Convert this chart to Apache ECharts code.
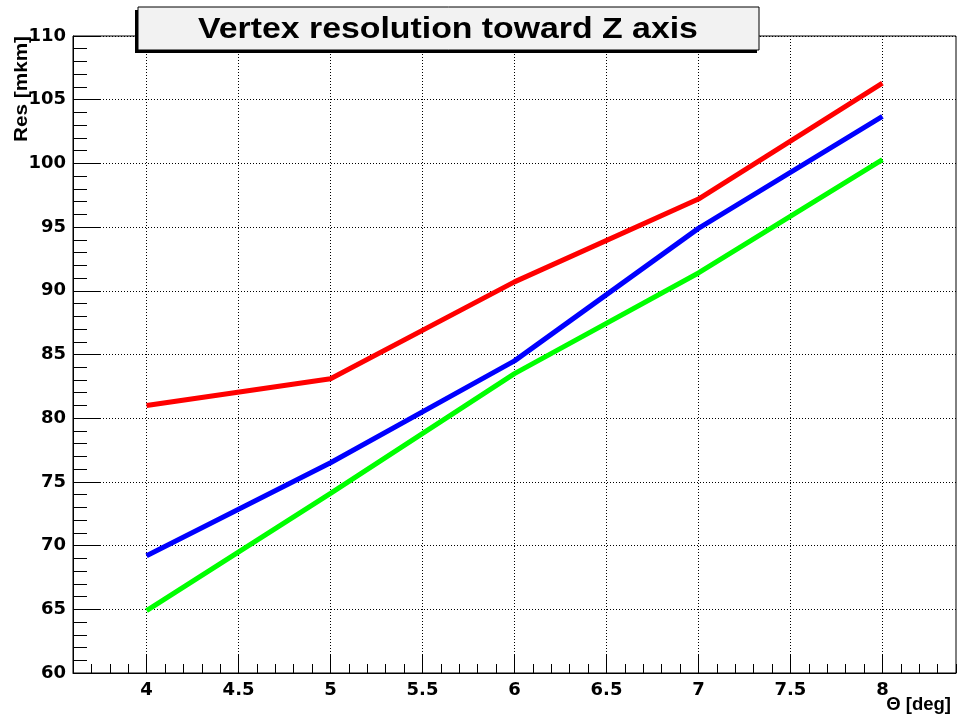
<!DOCTYPE html>
<html>
<head>
<meta charset="utf-8">
<script src="https://cdn.jsdelivr.net/npm/echarts@6/dist/echarts.min.js"></script>
<style>
  html, body { margin: 0; padding: 0; background: #fff; }
  #chart { width: 958px; height: 718px; }
</style>
</head>
<body>
<div id="chart"></div>
<script>
// Polar angle of the track, degrees
const theta = [4, 5, 6, 7, 8];
// Vertex resolution along Z, micrometres, one array per configuration
const resRed = [81.0, 83.1, 90.7, 97.2, 106.3];
const resBlue = [69.2, 76.5, 84.5, 94.9, 103.7];
const resGreen = [64.9, 74.1, 83.5, 91.4, 100.3];
// Labelled ticks on the theta axis
const thetaTicks = [4, 4.5, 5, 5.5, 6, 6.5, 7, 7.5, 8];

const FONT = '"Liberation Sans", Arial, Helvetica, sans-serif';
const LABEL_FONT = '"DejaVu Sans", "Liberation Sans", sans-serif';

function pairs(xs, ys) {
  return xs.map((x, i) => [x, ys[i]]);
}

const chart = echarts.init(document.getElementById('chart'), null, { renderer: 'canvas' });

const dotted = { color: '#000', width: 1, type: [1, 2] };

chart.setOption({
  backgroundColor: '#ffffff',
  animation: false,
  grid: {
    left: 73, right: 2, top: 36, bottom: 45,
    show: true, borderColor: '#000', borderWidth: 1,
    backgroundColor: 'transparent'
  },
  xAxis: [
    {
      type: 'value', min: 3.6, max: 8.4, position: 'bottom',
      axisLine: { show: true, onZero: false, lineStyle: { color: '#000', width: 1 } },
      axisTick: { show: true, inside: true, length: 19, customValues: thetaTicks, lineStyle: { color: '#000', width: 1 } },
      axisLabel: {
        show: true, customValues: thetaTicks, margin: 8,
        color: '#000', fontFamily: LABEL_FONT, fontWeight: 'bold', fontSize: 18,
        formatter: v => String(v)
      },
      splitLine: { show: true, lineStyle: dotted }
    },
    {
      // minor ticks every 0.1
      type: 'value', min: 3.6, max: 8.4, interval: 0.1, position: 'bottom',
      axisLine: { show: false },
      axisTick: { show: true, inside: true, length: 9, lineStyle: { color: '#000', width: 1 } },
      axisLabel: { show: false },
      splitLine: { show: false }
    }
  ],
  yAxis: {
    type: 'value', min: 60, max: 110, interval: 5,
    axisLine: { show: true, onZero: false, lineStyle: { color: '#000', width: 1 } },
    axisTick: { show: true, inside: true, length: 27, lineStyle: { color: '#000', width: 1 } },
    minorTick: { show: true, splitNumber: 5, length: 14, lineStyle: { color: '#000', width: 1 } },
    axisLabel: {
      margin: 7, color: '#000', fontFamily: LABEL_FONT, fontWeight: 'bold', fontSize: 18
    },
    splitLine: { show: true, lineStyle: dotted }
  },
  series: [
    { type: 'line', data: pairs(theta, resRed), showSymbol: false, symbol: 'none',
      lineStyle: { color: '#ff0000', width: 5 }, itemStyle: { color: '#ff0000' } },
    { type: 'line', data: pairs(theta, resBlue), showSymbol: false, symbol: 'none',
      lineStyle: { color: '#0000ff', width: 5 }, itemStyle: { color: '#0000ff' } },
    { type: 'line', data: pairs(theta, resGreen), showSymbol: false, symbol: 'none',
      lineStyle: { color: '#00ff00', width: 5 }, itemStyle: { color: '#00ff00' } }
  ],
  graphic: [
    // title box with drop shadow
    { type: 'rect', z: 100, shape: { x: 135, y: 10, width: 622, height: 43 },
      style: { fill: '#000' } },
    { type: 'rect', z: 101, shape: { x: 138, y: 7, width: 621, height: 43 },
      style: { fill: '#f2f2f2', stroke: '#000', lineWidth: 1 } },
    { type: 'text', z: 102, x: 448, y: 30, scaleX: 1.127,
      style: { text: 'Vertex resolution toward Z axis', fill: '#000',
        font: 'bold 30px ' + FONT, textAlign: 'center', textVerticalAlign: 'middle' } },
    // axis titles
    { type: 'text', z: 102, x: 22, y: 36, rotation: Math.PI / 2, scaleX: 1.12,
      style: { text: 'Res [mkm]', fill: '#000', font: 'bold 18.5px ' + FONT,
        textAlign: 'right', textVerticalAlign: 'middle' } },
    { type: 'text', z: 102, x: 951, y: 705,
      style: { text: 'Θ [deg]', fill: '#000', font: 'bold 18.5px ' + FONT,
        textAlign: 'right', textVerticalAlign: 'middle' } }
  ]
});
</script>
</body>
</html>
